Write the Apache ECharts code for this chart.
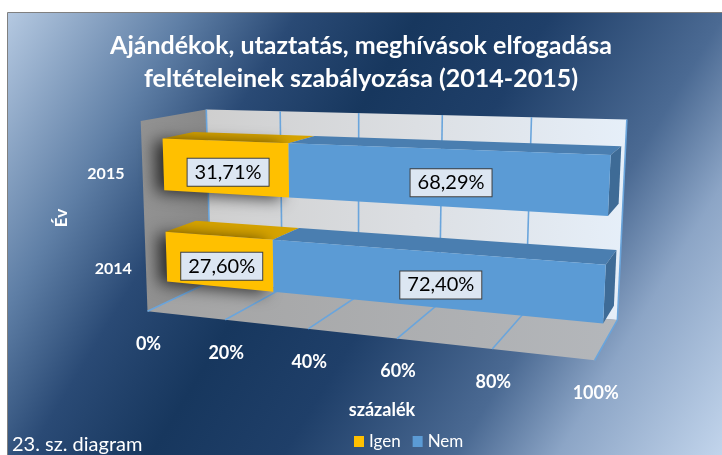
<!DOCTYPE html>
<html><head><meta charset="utf-8">
<script src="https://cdn.jsdelivr.net/npm/echarts@6/dist/echarts.min.js"></script>
<style>html,body{margin:0;padding:0;background:#fff}#c{width:722px;height:455px}</style>
</head><body><div id="c"></div>
<script>
const titleLines = ['Ajándékok, utaztatás, meghívások elfogadása', 'feltételeinek szabályozása (2014-2015)'];
const categories = ['2014', '2015'];
const seriesNames = ['Igen', 'Nem'];
const igenValues = [27.60, 31.71];
const nemValues = [72.40, 68.29];
const tickValues = [0, 20, 40, 60, 80, 100];
const xAxisName = 'százalék';
const yAxisName = 'Év';
const footnote = '23. sz. diagram';

const FONT = 'Lato';
// perspective calibration: unit cube corners (value, height, depth) -> screen
const CAL = [
  [[0,0,0],[146,308]],
  [[1,0,0],[595,363]],
  [[0,0,1],[212,285]],
  [[1,0,1],[617,317]],
  [[0,1,1],[205,108]],
  [[1,1,1],[627,120]],
  [[0,1,0],[142,122]]
];
function solveDLT(){
  const rows=[], rhs=[];
  CAL.forEach(([[X,Y,Z],[u,v]])=>{
    rows.push([X,Y,Z,1,0,0,0,0,-u*X,-u*Y,-u*Z]); rhs.push(u);
    rows.push([0,0,0,0,X,Y,Z,1,-v*X,-v*Y,-v*Z]); rhs.push(v);
  });
  const n=11, A=[];
  for(let i=0;i<n;i++) A.push(new Array(n+1).fill(0));
  rows.forEach((r,k)=>{for(let i=0;i<n;i++){for(let j=0;j<n;j++)A[i][j]+=r[i]*r[j];A[i][n]+=r[i]*rhs[k];}});
  for(let i=0;i<n;i++){
    let p=i; for(let k=i+1;k<n;k++) if(Math.abs(A[k][i])>Math.abs(A[p][i])) p=k;
    const t=A[i]; A[i]=A[p]; A[p]=t;
    for(let k=0;k<n;k++){ if(k===i) continue; const f=A[k][i]/A[i][i]; for(let j=i;j<=n;j++) A[k][j]-=f*A[i][j]; }
  }
  return A.map((r,i)=>r[n]/r[i]);
}
const M = solveDLT();
function P(X,Y,Z){ const w=M[8]*X+M[9]*Y+M[10]*Z+1; return [(M[0]*X+M[1]*Y+M[2]*Z+M[3])/w,(M[4]*X+M[5]*Y+M[6]*Z+M[7])/w]; }
function poly(pts, style, extra){ return Object.assign({type:'polygon', shape:{points:pts.map(p=>P(p[0],p[1],p[2]))}, style:style}, extra||{}); }

const Z0 = 0.3, Z1 = 0.78, BAR_RATIO = 0.55;
const fmt = v => v.toFixed(2).replace('.', ',') + '%';

function norm(params, api, v, c){
  const cs = params.coordSys; const p = api.coord([v, c]);
  return [(p[0]-cs.x)/cs.width, (cs.y+cs.height-p[1])/cs.height];
}

function barRender(colors, drawEnd){
  return function(params, api){
    const cs = params.coordSys;
    const s = api.value(0), e = api.value(1), c = api.value(2);
    const a = norm(params, api, s, c), b = norm(params, api, e, c);
    const band = api.size([0,1])[1] / cs.height;
    const X0=a[0], X1=b[0], yb=a[1]-band*BAR_RATIO/2, yt=a[1]+band*BAR_RATIO/2;
    const children = [];
    children.push(poly([[X0,yt,Z0],[X1,yt,Z0],[X1,yt,Z1],[X0,yt,Z1]], {fill:colors.top}));
    if (drawEnd) children.push(poly([[X1,yb,Z0],[X1,yb,Z1],[X1,yt,Z1],[X1,yt,Z0]], {fill:colors.end}));
    const frontStyle = {fill:colors.front};
    if (colors.shadow) Object.assign(frontStyle, {shadowBlur:16, shadowColor:'rgba(0,0,0,0.7)', shadowOffsetX:-8, shadowOffsetY:2});
    children.push(poly([[X0,yb,Z0],[X1,yb,Z0],[X1,yt,Z0],[X0,yt,Z0]], frontStyle));
    const q = [P(X0,yb,Z0),P(X1,yb,Z0),P(X1,yt,Z0),P(X0,yt,Z0)];
    const cx = (q[0][0]+q[1][0]+q[2][0]+q[3][0])/4 + 2, cy = (q[0][1]+q[1][1]+q[2][1]+q[3][1])/4 + 5;
    children.push({type:'text', z2:100, style:{text:fmt(e-s), x:cx, y:cy, align:'center', verticalAlign:'middle',
      fill:'#000', font:'20px ' + FONT, backgroundColor:'#dce6f2', borderColor:'#3f3f3f', borderWidth:1, padding:[4,7,3,7]}});
    return {type:'group', children};
  };
}

function wallsRender(params, api){
  const g = 'linear';
  return {type:'group', children:[
    poly([[0,0,1],[1,0,1],[1,1,1],[0,1,1]], {fill:{type:g,x:0,y:0,x2:1,y2:0,colorStops:[{offset:0,color:'#cfcfcf'},{offset:0.5,color:'#dcdfe3'},{offset:1,color:'#e6eff9'}]}}),
    poly([[0,0,0],[0,0,1],[0,1,1],[0,1,0]], {fill:{type:g,x:0,y:0,x2:1,y2:0,colorStops:[{offset:0,color:'#929292'},{offset:1,color:'#888888'}]}}),
    poly([[0,0,0],[1,0,0],[1,0,1],[0,0,1]], {fill:{type:g,x:0,y:0,x2:1,y2:0,colorStops:[{offset:0,color:'#a3a3a3'},{offset:1,color:'#b4b7bb'}]}})
  ]};
}

function gridRender(params, api){
  const t = api.value(0);
  const X = norm(params, api, t, 0)[0];
  const ln = (a,b)=>({type:'line', shape:{x1:a[0],y1:a[1],x2:b[0],y2:b[1]}, style:{stroke:'#6aa5dc', lineWidth:1.6}});
  const lp = P(X,0,0);
  return {type:'group', children:[
    ln(P(X,0,1),P(X,1,1)),
    ln(P(X,0,0),P(X,0,1)),
    {type:'text', style:{text:t+'%', x:lp[0]+1, y:lp[1]+33, align:'center', verticalAlign:'middle', fill:'#fff', font:'bold 18px ' + FONT}}
  ]};
}

function catRender(params, api){
  const c = api.value(1);
  const y = norm(params, api, 0, c)[1];
  const p = P(0, y, 0);
  return {type:'text', style:{text:categories[c], x:p[0]-20 + (1-y)*8, y:p[1]+4, align:'right', verticalAlign:'middle', fill:'#fff', font:'bold 16px ' + FONT}};
}

const chart = echarts.init(document.getElementById('c'), null, {renderer:'canvas'});
chart.setOption({
  animation:false,
  backgroundColor:'#ffffff',
  title:{text:titleLines.join('\n'), left:'center', top:24, textStyle:{color:'#fff', fontSize:25, fontWeight:'bold', fontFamily:FONT, lineHeight:33}},
  legend:{data:seriesNames, left:349, top:428, itemWidth:10, itemHeight:11, itemGap:12, icon:'rect',
    textStyle:{color:'#fff', fontSize:17, fontFamily:FONT}},
  grid:{left:100, top:100, width:400, height:200},
  xAxis:{type:'value', min:0, max:100, show:false},
  yAxis:{type:'category', data:categories, show:false},
  graphic:[
    {type:'rect', z:-10, shape:{x:7.5, y:12.5, width:716, height:445},
      style:{stroke:'#808080', lineWidth:1, fill:{type:'linear', global:true, x:0, y:0, x2:743, y2:452, colorStops:[
        {offset:0,color:'#bccfe6'},{offset:0.19,color:'#5f7fa6'},{offset:0.3,color:'#2a4a75'},{offset:0.42,color:'#17375e'},
        {offset:0.55,color:'#1f3f69'},{offset:0.72,color:'#4b6a93'},{offset:0.82,color:'#8ca5c6'},{offset:1,color:'#c8daf0'}]}}},
    {type:'text', z:10, x:382, y:410, style:{text:xAxisName, fill:'#fff', font:'bold 18px ' + FONT, align:'center', verticalAlign:'middle'}},
    {type:'text', z:10, x:62, y:218, rotation:Math.PI/2, style:{text:yAxisName, fill:'#fff', font:'bold 17px ' + FONT, align:'center', verticalAlign:'middle'}},
    {type:'text', z:10, x:12, y:445, style:{text:footnote, fill:'#fff', font:'20px ' + FONT, verticalAlign:'middle'}}
  ],
  series:[
    {type:'custom', name:'walls', silent:true, z:1, renderItem:wallsRender, data:[[0,0]], encode:{x:0,y:1}},
    {type:'custom', name:'gridlines', silent:true, z:1, renderItem:gridRender, data:tickValues.map(t=>[t,0]), encode:{x:0,y:1}},
    {type:'custom', name:'cats', silent:true, z:1, renderItem:catRender, data:categories.map((c,i)=>[0,i]), encode:{x:0,y:1}},
    {type:'custom', name:'Igen', z:2, itemStyle:{color:'#ffc000'}, renderItem:barRender({front:'#ffc000', top:'#d6a300', end:'#b38800', shadow:true}, false),
      data:igenValues.map((v,i)=>[0, v, i]), encode:{x:[0,1], y:2}},
    {type:'custom', name:'Nem', z:2, itemStyle:{color:'#5b9bd5'}, renderItem:barRender({front:'#5b9bd5', top:'#4a7eb0', end:'#3e6b96'}, true),
      data:nemValues.map((v,i)=>[igenValues[i], igenValues[i]+v, i]), encode:{x:[0,1], y:2}}
  ]
});
</script></body></html>
